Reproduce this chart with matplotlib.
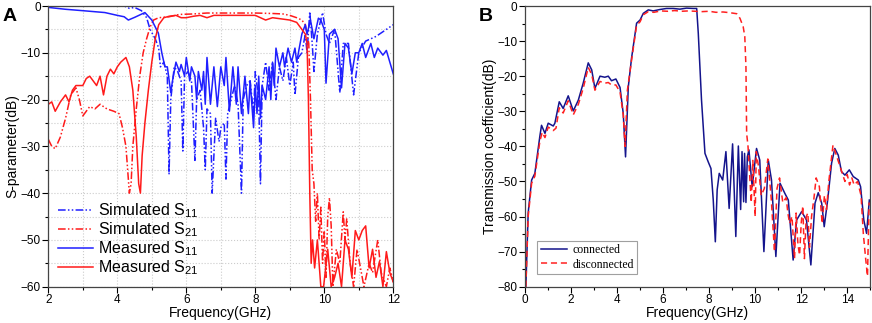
import numpy as np
import matplotlib
matplotlib.use("Agg")
import matplotlib.pyplot as plt
from matplotlib.ticker import MultipleLocator

plt.rcParams['font.family'] = ['Liberation Sans', 'DejaVu Sans']

# ---- panel A data (GHz, dB) ----
sim_s11_f = [2.0, 4.2, 4.35, 4.5, 4.7, 4.85, 4.95, 5.1, 5.2, 5.25, 5.35, 5.45, 5.5, 5.55, 5.65, 5.75,
             5.85, 5.9, 5.95, 6.05, 6.15, 6.25, 6.3, 6.4, 6.5, 6.55, 6.6, 6.7, 6.75, 6.85, 6.95, 7.0,
             7.1, 7.15, 7.2, 7.3, 7.4, 7.5, 7.6, 7.65, 7.75, 7.85, 7.95, 8.0, 8.1, 8.15, 8.2, 8.3,
             8.4, 8.5, 8.6, 8.7, 8.8, 8.9, 9.0, 9.1, 9.15, 9.25, 9.35, 9.45, 9.5, 9.58, 9.65, 9.7,
             9.8, 9.95, 10.05, 10.15, 10.3, 10.45, 10.55, 10.7, 10.85, 11.0, 11.2, 11.5, 11.8, 12.0]
sim_s11 = [0, 0, -0.5, -0.3, -1, -2.5, -5, -7, -9, -13, -12, -15, -36, -20, -13, -14,
           -16, -31, -15, -14, -16, -33, -20, -18, -26, -35, -22, -23, -40, -24, -29, -26,
           -25, -37, -23, -20, -17, -21, -40, -20, -17, -16, -23, -14, -20, -38, -17, -12,
           -18, -12, -20, -13, -16, -11, -17, -12, -19, -11, -10, -6, -10, -1.2, -8, -14,
           -6, -1.4, -6, -8, -5, -18.5, -8, -8, -19, -10, -7.5, -6.5, -5, -4]

sim_s21_f = [2.0, 2.1, 2.2, 2.35, 2.5, 2.65, 2.8, 2.9, 3.0, 3.1, 3.2, 3.35, 3.5, 3.7, 3.9, 4.05,
             4.15, 4.25, 4.3, 4.35, 4.4, 4.45, 4.55, 4.65, 4.75, 4.85, 4.95, 5.05, 5.2, 5.5, 5.8, 6.2,
             6.6, 7.0, 7.5, 8.0, 8.5, 8.8, 9.0, 9.2, 9.35, 9.45, 9.55, 9.6, 9.65, 9.7, 9.75, 9.8,
             9.85, 9.9, 9.95, 10.0, 10.05, 10.1, 10.15, 10.2, 10.25, 10.35, 10.45, 10.55, 10.6, 10.65,
             10.75, 10.85, 10.95, 11.05, 11.15, 11.3, 11.4, 11.55, 11.65, 11.8, 11.9, 12.0]
sim_s21 = [-28.5, -30, -30.5, -28, -24, -19, -17.5, -20, -23.5, -22.5, -21.5, -22, -21, -22, -22.5, -23,
           -26, -30, -35, -40, -38, -30, -22, -15, -10, -7, -4.5, -3, -2.5, -2.3, -1.8, -1.7,
           -1.5, -1.5, -1.5, -1.5, -1.6, -1.7, -2, -2.5, -3, -4, -8, -20, -35, -38, -46, -40,
           -50, -43, -55, -48, -58, -45, -41, -47, -60, -52, -55, -44, -50, -45.5,
           -55, -60, -52, -56, -60, -55, -57, -50, -57, -60, -56, -59]

meas_s11_f = [2.0, 2.5, 3.0, 3.64, 4.0, 4.2, 4.32, 4.51, 4.8, 5.0, 5.19, 5.29, 5.38, 5.45, 5.55, 5.6,
              5.7, 5.8, 5.85, 5.95, 6.0, 6.1, 6.15, 6.25, 6.3, 6.35, 6.45, 6.5, 6.55, 6.6, 6.7, 6.8,
              6.9, 7.0, 7.1, 7.15, 7.25, 7.35, 7.45, 7.5, 7.6, 7.7, 7.8, 7.85, 7.95, 8.0, 8.05, 8.1,
              8.15, 8.2, 8.3, 8.4, 8.45, 8.5, 8.55, 8.6, 8.7, 8.8, 8.85, 8.95, 9.05, 9.15, 9.2, 9.3,
              9.35, 9.45, 9.5, 9.6, 9.7, 9.83, 9.9, 10.0, 10.05, 10.15, 10.3, 10.4, 10.5, 10.6, 10.7,
              10.8, 10.9, 11.0, 11.1, 11.2, 11.35, 11.45, 11.55, 11.7, 11.8, 11.9, 12.0]
meas_s11 = [-0.3, -0.7, -1.0, -1.4, -2.0, -2.3, -3.0, -2.4, -1.4, -3.0, -5.8, -10, -13, -13, -18.5, -16,
            -12, -14, -12.5, -15, -11, -16, -13, -15, -20, -14, -18, -14, -21, -11, -21, -13,
            -21.5, -13, -17, -11, -22.5, -13, -21, -13, -23, -15, -23, -16, -26, -17, -23, -15,
            -24, -17, -20, -13, -20, -12, -17, -9, -13, -10, -13, -9, -12, -9, -12, -8,
            -6, -4, -6, -3, -7, -2.6, -3, -5, -16.5, -6, -5, -7, -17.5, -8, -9,
            -14.5, -10, -10, -8, -11, -8, -11, -9, -10.5, -9.5, -12, -14.5]

meas_s21_f = [2.0, 2.1, 2.2, 2.35, 2.5, 2.6, 2.7, 2.8, 2.9, 3.0, 3.1, 3.2, 3.3, 3.4, 3.5, 3.6,
              3.7, 3.8, 3.9, 4.0, 4.1, 4.25, 4.35, 4.45, 4.55, 4.62, 4.67, 4.72, 4.8, 4.9, 5.0, 5.1,
              5.2, 5.35, 5.5, 5.7, 5.85, 6.0, 6.2, 6.4, 6.6, 6.8, 7.0, 7.5, 8.0, 8.3, 8.5, 8.8,
              9.0, 9.2, 9.35, 9.45, 9.5, 9.54, 9.58, 9.62, 9.66, 9.72, 9.8, 9.9, 9.98, 10.1, 10.2,
              10.3, 10.4, 10.5, 10.6, 10.7, 10.8, 10.9, 11.0, 11.1, 11.2, 11.3, 11.4, 11.5, 11.6,
              11.7, 11.8, 11.9, 12.0]
meas_s21 = [-21, -20.5, -22.5, -20.5, -19, -20.5, -18, -17, -17, -17, -15.5, -15, -16, -17, -15, -19,
            -15, -13.5, -14.5, -13, -12, -11, -13, -18, -28, -38, -40, -32, -25, -18, -12, -7,
            -4, -2.5, -2.2, -2, -2.5, -2.5, -2.2, -2, -2.5, -2, -2, -2, -2, -3, -2.5, -2.8,
            -3, -3.5, -5, -6, -8, -20, -40, -55, -50, -56, -50, -60, -60, -52, -60,
            -58, -55, -60, -50, -52, -58, -48, -50, -48, -47, -56, -52, -58, -54.6,
            -60, -52.5, -57, -59]

# ---- panel B data (GHz, dB) ----
conn_f = [0.04, 0.14, 0.29, 0.43, 0.65, 0.72, 0.87, 1.01, 1.23, 1.3, 1.49, 1.66, 1.88, 2.1, 2.32, 2.53,
          2.75, 2.9, 3.04, 3.26, 3.47, 3.62, 3.76, 3.95, 4.13, 4.27, 4.37, 4.49, 4.63, 4.85, 5.0, 5.14,
          5.36, 5.57, 5.86, 6.15, 6.44, 6.73, 7.02, 7.31, 7.46, 7.53, 7.67, 7.82, 7.96, 8.08, 8.18,
          8.27, 8.35, 8.44, 8.59, 8.73, 8.87, 9.02, 9.16, 9.27, 9.37, 9.43, 9.5, 9.54, 9.6, 9.66,
          9.73, 9.87, 10.06, 10.2, 10.38, 10.57, 10.71, 10.9, 11.08, 11.29, 11.44, 11.65, 11.8, 12.02,
          12.23, 12.42, 12.6, 12.74, 12.89, 13.0, 13.15, 13.32, 13.46, 13.61, 13.75, 13.9, 14.09,
          14.26, 14.48, 14.58, 14.72, 14.84, 14.96]
conn = [-80, -59, -49.6, -47.7, -37, -34, -36.3, -33.4, -34.2, -33.4, -27.3, -29.2, -25.6, -29.9, -26.8, -22,
        -16.2, -18.2, -23.5, -20, -20.3, -20, -21.3, -20.8, -23.2, -30.6, -43, -23, -14.9, -4.9, -4, -2.1,
        -1.1, -1.4, -1, -0.7, -0.7, -0.9, -0.6, -0.7, -0.7, -7.8, -26.8, -42, -44.4, -46.3, -55.3,
        -67.2, -52.4, -47.7, -49.6, -41.5, -57.7, -39.3, -65.7, -39.9, -58, -41.5, -55.8, -42, -56, -43,
        -41, -51.5, -40.6, -43.9, -70, -43.9, -49.6, -71.4, -50.5, -53.4, -55.3, -72.4, -61, -58.6,
        -61, -73.8, -56.2, -53.2, -56.2, -62.9, -55.3, -44.8, -40.6, -42.5, -47.2, -48.2, -46.7,
        -48.6, -49.6, -51.5, -61, -64.8, -55.3]

disc_f = [0.04, 0.14, 0.29, 0.43, 0.65, 0.75, 0.87, 1.01, 1.23, 1.35, 1.49, 1.66, 1.88, 2.1, 2.32, 2.53,
          2.75, 2.9, 3.04, 3.26, 3.47, 3.62, 3.76, 3.95, 4.13, 4.27, 4.35, 4.45, 4.63, 4.85, 5.0, 5.14,
          5.36, 5.6, 5.9, 6.2, 6.5, 6.8, 7.1, 7.4, 7.7, 8.0, 8.3, 8.6, 8.9, 9.2, 9.34, 9.48, 9.55,
          9.6, 9.63, 9.69, 9.76, 9.83, 9.9, 10.0, 10.05, 10.15, 10.26, 10.4, 10.55, 10.7, 10.84, 10.95,
          11.06, 11.2, 11.35, 11.42, 11.5, 11.6, 11.71, 11.78, 11.86, 11.93, 12.0, 12.07, 12.14, 12.22,
          12.29, 12.36, 12.45, 12.55, 12.65, 12.79, 12.91, 13.01, 13.1, 13.2, 13.38, 13.5, 13.6, 13.8,
          13.9, 14.0, 14.1, 14.2, 14.3, 14.45, 14.6, 14.7, 14.8, 14.88, 14.95]
disc = [-80, -60, -50.5, -48.5, -38.5, -36, -37.5, -34.5, -35.5, -34.8, -29, -30.5, -27, -31, -28, -23.5,
        -17.5, -19.5, -24, -21.5, -22, -21.8, -22.5, -22.5, -24.5, -31, -40, -24, -15.5, -5.5, -4.5, -2.5,
        -1.6, -1.8, -1.4, -1.5, -1.3, -1.5, -1.4, -1.5, -1.6, -1.5, -1.8, -1.7, -1.9, -2.2, -3.5, -5.9, -8.7,
        -17.3, -36.3, -40, -48, -56, -44, -60, -41.5, -46, -54, -52, -43.6, -55, -70, -52,
        -49, -56, -54.6, -59, -62, -60, -72, -59, -68, -71, -62, -57, -72, -60,
        -59, -68.8, -60, -55, -49, -51.5, -62, -54, -58, -50, -39.7, -42, -44, -48,
        -50, -48, -51, -49, -51, -50, -54, -65, -72, -77, -56]

fig = plt.figure(figsize=(8.72, 3.23), dpi=100)
axA = fig.add_axes([0.0554, 0.1124, 0.3956, 0.869])
axB = fig.add_axes([0.602, 0.1124, 0.396, 0.869])

dashdotdot = (0, (5, 1.5, 1, 1.5, 1, 1.5))
blue = '#1f1fff'
red = '#ff1a1a'

axA.plot(sim_s11_f, sim_s11, color=blue, ls=dashdotdot, lw=1.1, label='Simulated S$_{\\mathregular{11}}$')
axA.plot(sim_s21_f, sim_s21, color=red, ls=dashdotdot, lw=1.1, label='Simulated S$_{\\mathregular{21}}$')
axA.plot(meas_s11_f, meas_s11, color=blue, lw=1.1, label='Measured S$_{\\mathregular{11}}$')
axA.plot(meas_s21_f, meas_s21, color=red, lw=1.1, label='Measured S$_{\\mathregular{21}}$')
axA.set_xlim(2, 12)
axA.set_ylim(-60, 0)
axA.xaxis.set_major_locator(MultipleLocator(2))
axA.xaxis.set_minor_locator(MultipleLocator(1))
axA.yaxis.set_major_locator(MultipleLocator(10))
axA.yaxis.set_minor_locator(MultipleLocator(5))
axA.grid(which='both', color='#cccccc', ls=':', lw=0.8)
axA.set_axisbelow(True)
axA.set_xlabel('Frequency(GHz)', fontsize=10, labelpad=0)
axA.set_ylabel('S-parameter(dB)', fontsize=10, labelpad=1)
axA.legend(loc='lower left', frameon=False, fontsize=11.5, handlelength=2.2,
           labelspacing=0.02, borderaxespad=0.2, handletextpad=0.3)

axB.plot(conn_f, conn, color='#14148c', lw=1.1, label='connected')
axB.plot(disc_f, disc, color='#ff2020', ls=(0, (4, 2.5)), lw=1.1, label='disconnected')
axB.set_xlim(0, 15)
axB.set_ylim(-80, 0)
axB.xaxis.set_major_locator(MultipleLocator(2))
axB.xaxis.set_minor_locator(MultipleLocator(1))
axB.yaxis.set_major_locator(MultipleLocator(10))
axB.yaxis.set_minor_locator(MultipleLocator(5))
axB.set_xlabel('Frequency(GHz)', fontsize=10, labelpad=0)
axB.set_ylabel('Transmission coefficient(dB)', fontsize=10, labelpad=0)
legB = axB.legend(loc='lower left', bbox_to_anchor=(0.035, 0.045), borderaxespad=0, fancybox=False,
                  prop={'family': 'Liberation Serif', 'size': 8.5}, handlelength=2.2,
                  labelspacing=0.2, borderpad=0.3, handletextpad=0.5)
legB.get_frame().set_edgecolor('#888888')
legB.get_frame().set_linewidth(0.8)

for ax in (axA, axB):
    ax.tick_params(which='major', direction='out', length=4, width=0.8, labelsize=8.5, pad=1.5)
    ax.tick_params(which='minor', direction='out', length=2.5, width=0.8)
    for sp in ax.spines.values():
        sp.set_color('#444444')
        sp.set_linewidth(0.9)

fig.text(0.003, 0.975, 'A', fontsize=14, fontweight='bold', va='top', ha='left')
fig.text(0.549, 0.975, 'B', fontsize=14, fontweight='bold', va='top', ha='left')

fig.savefig('out.png', dpi=100)
